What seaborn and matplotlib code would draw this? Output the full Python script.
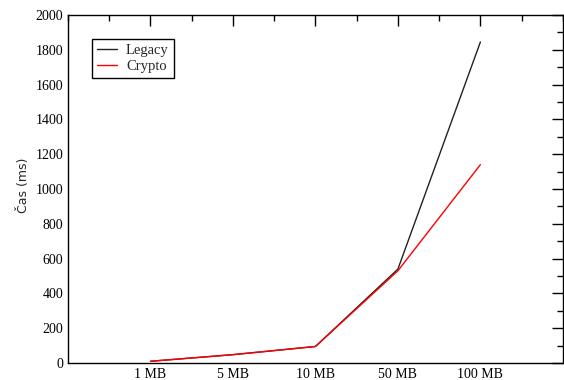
import matplotlib
matplotlib.use("Agg")
import matplotlib.pyplot as plt
import seaborn as sns
import pandas as pd
from matplotlib.ticker import MultipleLocator

categories = ["1 MB", "5 MB", "10 MB", "50 MB", "100 MB"]
legacy = [10, 48, 95, 540, 1845]
crypto = [10, 48, 95, 530, 1140]

sns.set_style("white")
plt.rcParams['font.family'] = ['Liberation Serif', 'DejaVu Serif']

pos = list(range(1, len(categories) + 1))
df = pd.DataFrame({
    "x": pos * 2,
    "y": legacy + crypto,
    "series": ["Legacy"] * len(pos) + ["Crypto"] * len(pos),
})

fig = plt.figure(figsize=(5.64, 3.8), dpi=100)
ax = fig.add_axes([0.1206, 0.0447, 0.8774, 0.9158])
sns.lineplot(data=df, x="x", y="y", hue="series", palette={"Legacy": "#222222", "Crypto": "red"},
             ax=ax, linewidth=1.0, legend=True)

ax.set_xlim(0, 6)
ax.set_ylim(0, 2000)
ax.set_xticks(pos)
ax.set_xticklabels(categories)
ax.xaxis.set_minor_locator(MultipleLocator(0.5))
ax.yaxis.set_major_locator(MultipleLocator(200))
ax.yaxis.set_minor_locator(MultipleLocator(100))
ax.tick_params(which="both", direction="in", top=True, right=True, labelsize=10, width=1, colors="black")
ax.tick_params(which="major", length=8)
ax.tick_params(which="minor", length=4)
ax.set_xlabel("")
ax.set_ylabel("Čas (ms)", fontsize=9, labelpad=3, family=["DejaVu Sans"])
ax.yaxis.set_label_coords(-0.077, 0.51)
for s in ax.spines.values():
    s.set_color("black")
    s.set_linewidth(1.0)

leg = ax.legend(loc="upper left", bbox_to_anchor=(0.048, 0.931), fontsize=10.5, frameon=True,
                fancybox=False, edgecolor="black", framealpha=1, handlelength=1.4,
                handletextpad=0.6, borderpad=0.35, labelspacing=0.15, borderaxespad=0)
leg.get_frame().set_linewidth(1.0)

fig.savefig("out.png", dpi=100)
